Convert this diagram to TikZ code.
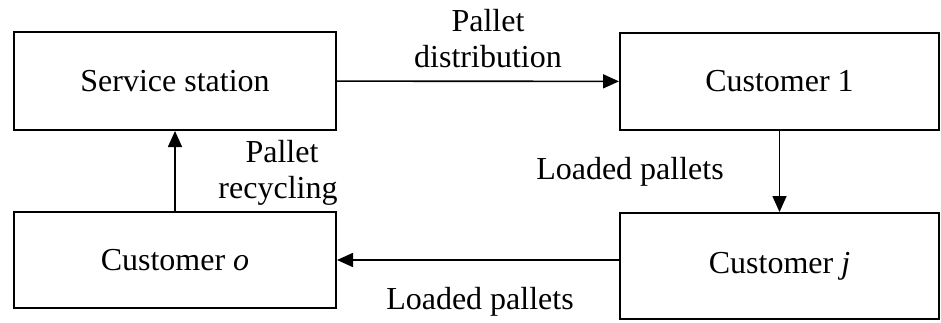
\documentclass[tikz,border=0pt]{standalone}
\usepackage{fontspec}
\setmainfont{Liberation Serif}
\usetikzlibrary{arrows.meta}
\tikzset{
  box/.style={draw,line width=1pt,fill=white,inner sep=0pt,font=\fontsize{16}{19}\selectfont},
  arr/.style={line width=0.8pt,-{Triangle[length=8pt,width=7pt]}},
  lbl/.style={font=\fontsize{16}{19}\selectfont,inner sep=0pt}
}
\begin{document}
\begin{tikzpicture}[x=0.5pt,y=-0.5pt]
\useasboundingbox(0,0)rectangle(941,322);
%boxes
\node[box,minimum width=161pt,minimum height=49pt](ss)at(175,81){Service station};
\node[box,minimum width=159.5pt,minimum height=48.5pt](c1)at(779.5,81.5){Customer 1};
\node[box,minimum width=159.5pt,minimum height=53pt](cj)at(779.5,266){Customer \textit{j}};
\node[box,minimum width=161pt,minimum height=48pt](co)at(175,260){Customer \textit{o}};
%arrows
\draw[arr](ss)--(c1);
\draw[arr](c1)--(cj);
\draw[arr](co.east-|cj.west)--(co.east);
\draw[arr](co)--(ss);
%labels
\node[lbl](pd1)at(488,21){Pallet};
\node[lbl](pd2)at(488,57){distribution};
\node[lbl](lp1)at(630,172){Loaded pallets};
\node[lbl](pr1)at(282,152){Pallet};
\node[lbl](pr2)at(278,191){recycling};
\node[lbl](lp2)at(480,302){Loaded pallets};
\end{tikzpicture}
\end{document}
